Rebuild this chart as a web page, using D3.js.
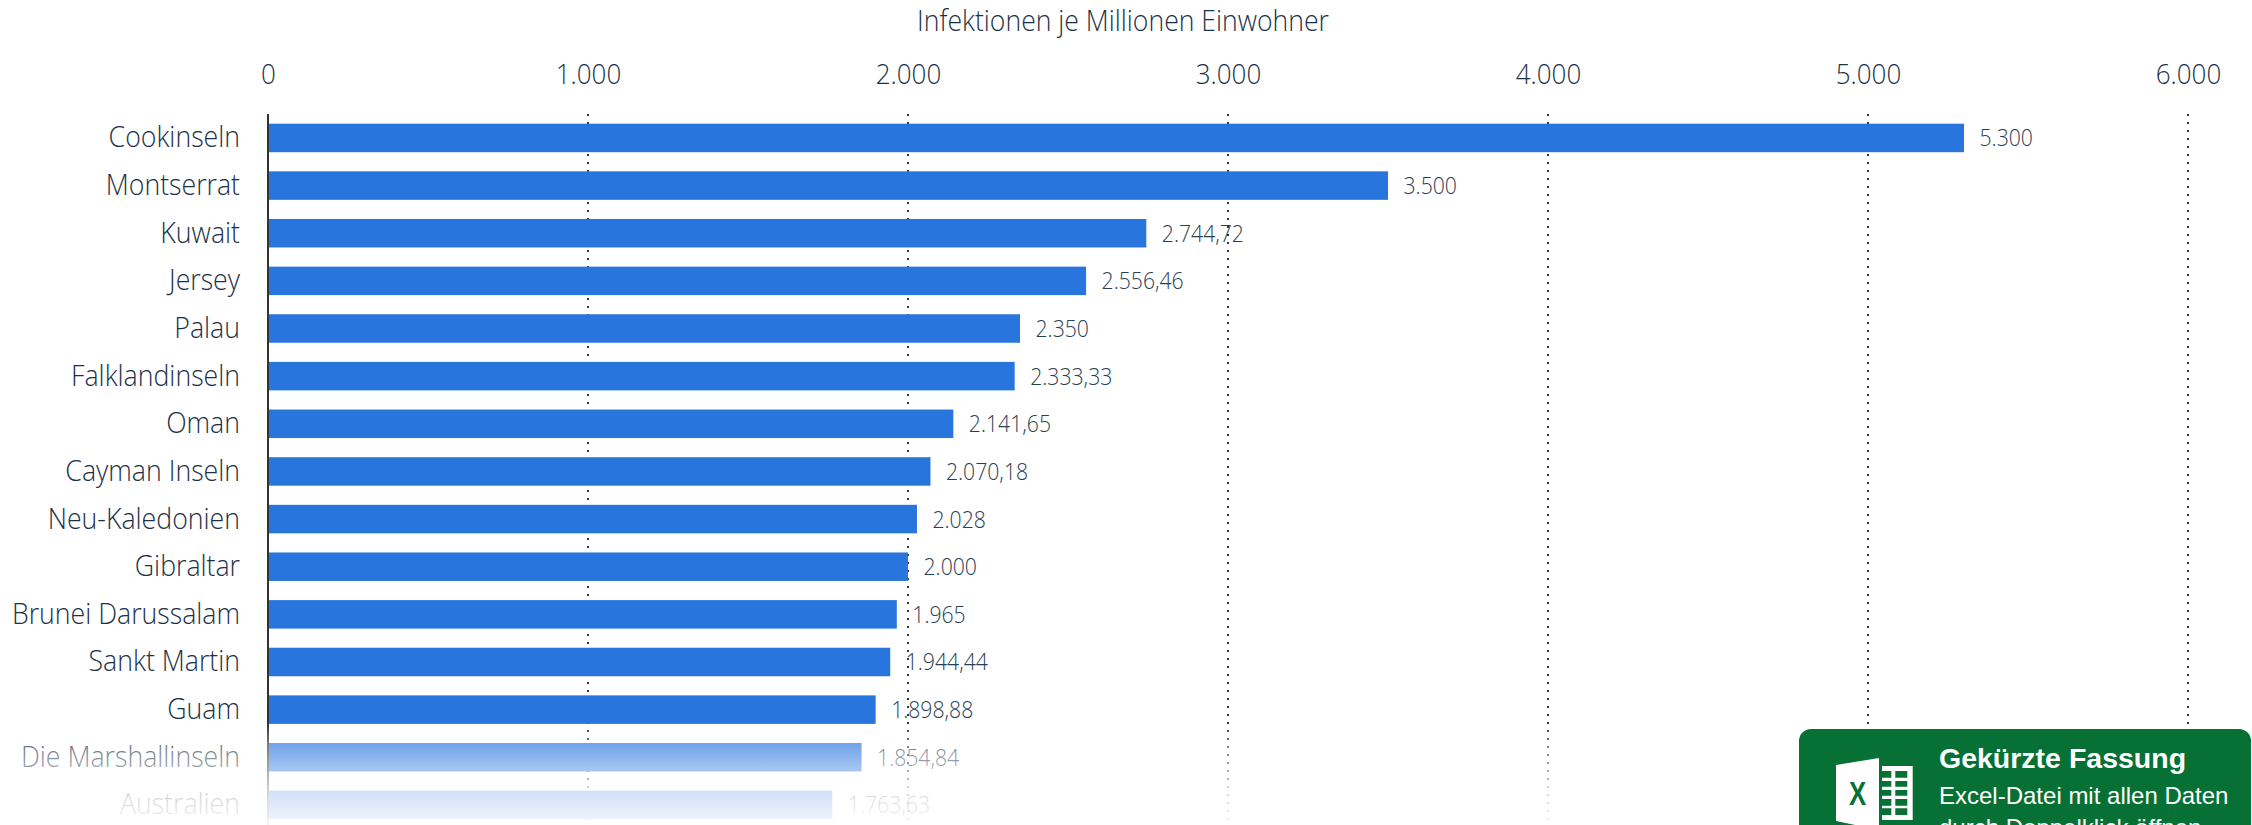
<!DOCTYPE html>
<html lang="de">
<head>
<meta charset="utf-8">
<script src="https://cdn.jsdelivr.net/npm/d3@7/dist/d3.min.js"></script>
<style>
  html, body { margin: 0; padding: 0; background: #fff; overflow: hidden; }
  svg { display: block; }
  text { font-family: "Open Sans", sans-serif; font-weight: 300; }
  .sans { font-family: "Liberation Sans", sans-serif; }
</style>
</head>
<body>
<svg id="chart" width="2252" height="825"></svg>
<script>
const countries = ["Cookinseln", "Montserrat", "Kuwait", "Jersey", "Palau", "Falklandinseln", "Oman",
  "Cayman Inseln", "Neu-Kaledonien", "Gibraltar", "Brunei Darussalam", "Sankt Martin", "Guam",
  "Die Marshallinseln", "Australien"];
const infections = [5300, 3500, 2744.72, 2556.46, 2350, 2333.33, 2141.65, 2070.18, 2028, 2000, 1965,
  1944.44, 1898.88, 1854.84, 1763.63];
const axisTicks = [0, 1000, 2000, 3000, 4000, 5000, 6000];
const axisTitle = "Infektionen je Millionen Einwohner";
const badgeHeading = "Gekürzte Fassung";
const badgeLines = ["Excel-Datei mit allen Daten", "durch Doppelklick öffnen"];

const svg = d3.select("#chart");
const ink = "#1c3148";
const tall = 1.08; // labels are set slightly taller than the font's natural proportions

// German number format: dot for thousands, comma for decimals
const de = d3.formatLocale({ decimal: ",", thousands: ".", grouping: [3], currency: ["", " €"] });
const fmtTick = de.format(",d");
const fmtValue = v => Number.isInteger(v) ? de.format(",d")(v) : de.format(",.2f")(v);
const place = (px, py) => `translate(${px},${py}) scale(1,${tall})`;

const x = d3.scaleLinear().domain([0, 6000]).range([268, 2188]);
const y = d3.scaleBand().domain(countries).range([114.13, 114.13 + 47.64 * countries.length])
  .paddingInner(0.4018).paddingOuter(0.2009);

// Dotted gridlines, running down past the faded rows
svg.append("g").selectAll("line").data(axisTicks.slice(1)).join("line")
  .attr("x1", d => Math.round(x(d))).attr("x2", d => Math.round(x(d)))
  .attr("y1", 114).attr("y2", 825)
  .attr("stroke", "#333").attr("stroke-width", 2).attr("stroke-dasharray", "2 6");

// Top axis: tick labels only, the domain and tick marks are hidden
const axisG = svg.append("g").attr("transform", "translate(0,83.5)")
  .call(d3.axisTop(x).tickValues(axisTicks).tickFormat(fmtTick).tickSize(0).tickPadding(0));
axisG.select(".domain").remove();
axisG.selectAll("text").attr("font-size", 26).attr("fill", ink)
  .attr("transform", `scale(1,${tall})`)
  .style("font-family", '"Open Sans", sans-serif');

svg.append("text").attr("transform", place(1123, 31)).attr("text-anchor", "middle")
  .attr("font-size", 26.6).attr("fill", ink).text(axisTitle);

// Bars
svg.append("g").selectAll("rect").data(countries).join("rect")
  .attr("x", x(0)).attr("y", d => y(d))
  .attr("width", (d, i) => x(infections[i]) - x(0))
  .attr("height", y.bandwidth())
  .attr("fill", "#2975de");

// Baseline at zero
svg.append("line").attr("x1", x(0)).attr("x2", x(0)).attr("y1", 114).attr("y2", 825)
  .attr("stroke", "#333").attr("stroke-width", 2);

// Category labels
svg.append("g").selectAll("text").data(countries).join("text")
  .attr("transform", d => place(240, y(d) + y.bandwidth() / 2 + 9.5))
  .attr("text-anchor", "end").attr("font-size", 26.7).attr("fill", ink).text(d => d);

// Value labels
svg.append("g").selectAll("text").data(infections).join("text")
  .attr("transform", (d, i) => place(x(d) + 15.5, y(countries[i]) + y.bandwidth() / 2 + 8.5))
  .attr("font-size", 21.2).attr("fill", "#2b3e54").text(fmtValue);

// White fade across the bottom rows
const fade = svg.append("defs").append("linearGradient").attr("id", "fade")
  .attr("gradientUnits", "userSpaceOnUse").attr("x1", 0).attr("x2", 0).attr("y1", 724).attr("y2", 825);
[[0, 0], [0.19, 0.33], [0.47, 0.6], [0.66, 0.78], [0.94, 0.92], [1, 0.95]].forEach(([o, a]) =>
  fade.append("stop").attr("offset", o).attr("stop-color", "#fff").attr("stop-opacity", a));
svg.append("rect").attr("x", 0).attr("y", 724).attr("width", 2252).attr("height", 101).attr("fill", "url(#fade)");

// Download badge in the lower right corner
const green = "#067035";
const badge = svg.append("g");
badge.append("rect").attr("x", 1799).attr("y", 729).attr("width", 452).attr("height", 130).attr("rx", 12)
  .attr("fill", green);
badge.append("path").attr("fill", "#fff").attr("d", "M1836,765 L1879,758 L1879,830 L1836,821 Z");
badge.append("text").attr("class", "sans").attr("transform", "translate(1849,805) scale(0.77,1)")
  .attr("fill", green).style("font-weight", 700).attr("font-size", 33.5).text("X");

// Spreadsheet grid beside the X: white sheet with green cells cut out of it
const cellRows = [[771, 777.7], [781, 786.7], [790, 795.7], [799, 805.7], [808.3, 815]];
const cellCols = [[1882, 1891.3], [1895.3, 1907.3]];
badge.append("path").attr("fill", "#fff").attr("fill-rule", "evenodd").attr("d",
  "M1882,766 H1912.7 V820 H1882 Z " +
  cellRows.flatMap(([t, b]) => cellCols.map(([l, r]) => `M${l},${t} H${r} V${b} H${l} Z`)).join(" "));

badge.append("text").attr("class", "sans").attr("x", 1939).attr("y", 768).attr("fill", "#fff")
  .style("font-weight", 700).attr("font-size", 28.5).text(badgeHeading);
badge.selectAll("text.line").data(badgeLines).join("text").attr("class", "sans line")
  .attr("x", 1939).attr("y", (d, i) => 804 + i * 32).attr("fill", "#fff")
  .style("font-weight", 400).attr("font-size", 24).text(d => d);
</script>
</body>
</html>
